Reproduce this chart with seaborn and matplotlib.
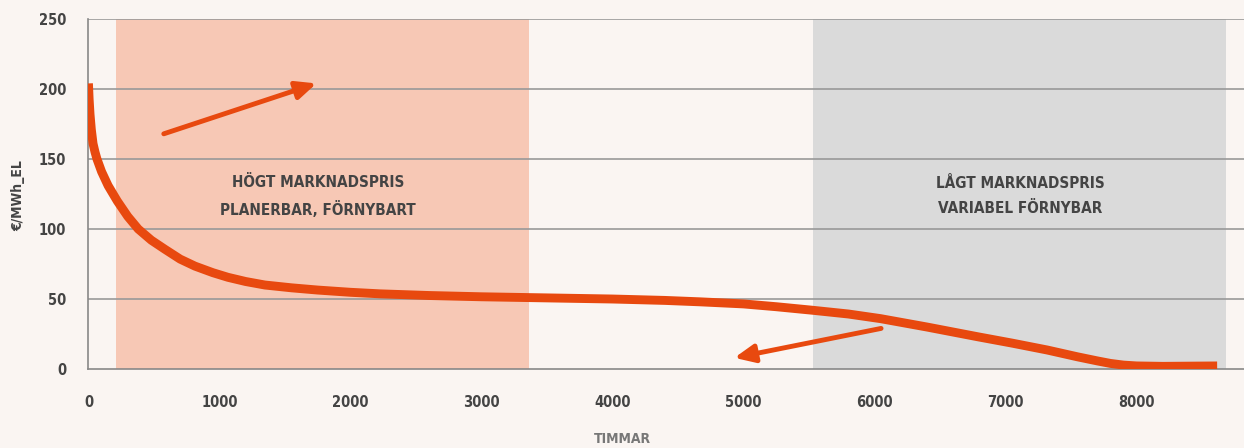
import numpy as np
import pandas as pd
import matplotlib
matplotlib.use("Agg")
import matplotlib.pyplot as plt
import seaborn as sns

# duration curve (hours vs price)
hours = [0, 5, 12, 22, 35, 50, 65, 100, 150, 220, 300, 380, 480, 584, 700, 813, 950,
         1065, 1200, 1347, 1550, 1750, 2000, 2225, 2600, 3000, 3500, 4000, 4400, 4667,
         5000, 5250, 5524, 5800, 6045, 6400, 6790, 7050, 7317, 7550, 7700, 7800, 7900,
         8000, 8200, 8615]
price = [204, 193, 182, 171, 161, 155, 150, 141, 131, 120, 109, 100, 92, 85.5, 78.5,
         73.5, 68.8, 65.5, 62.5, 60, 58, 56.4, 54.8, 53.7, 52.5, 51.6, 50.8, 50, 49,
         48, 46.5, 44.5, 42, 39.3, 36, 30, 23, 18.5, 13.6, 8.7, 5.8, 4, 2.8,
         2.2, 1.9, 2.2]

# shaded regimes
regions = [(210, 3360), (5530, 8685)]
region_labels = ["HÖGT MARKNADSPRIS\nPLANERBAR, FÖRNYBART",
                 "LÅGT MARKNADSPRIS\nVARIABEL FÖRNYBAR"]
label_pos = [(1750, 123.5), (7110, 123.5)]

# arrows (start -> end)
arrows = [((575, 168), (1740, 204)), ((6050, 29), (4930, 8))]

x_ticks = [0, 1000, 2000, 3000, 4000, 5000, 6000, 7000, 8000]
y_ticks = [0, 50, 100, 150, 200, 250]

bg = "#faf5f2"
orange = "#e8490f"
txt = "#444444"

sns.set_theme(style="white")
plt.rcParams["font.family"] = ["DejaVu Sans"]
plt.rcParams["font.stretch"] = "condensed"
plt.rcParams["font.weight"] = "bold"

fig = plt.figure(figsize=(12.44, 4.48), dpi=100, facecolor=bg)
ax = fig.add_axes([0.0711, 0.1763, 0.9289, 0.78125])
ax.set_facecolor(bg)

ax.axvspan(*regions[0], color="#f7c8b5", lw=0, zorder=0)
ax.axvspan(*regions[1], color="#dadada", lw=0, zorder=0)

for yv in y_ticks[1:]:
    ax.axhline(yv, color="#999999", lw=1.2, zorder=1)

df = pd.DataFrame({"hours": hours, "price": price})
sns.lineplot(data=df, x="hours", y="price", ax=ax, color=orange, lw=6.4,
             solid_capstyle="butt", solid_joinstyle="round", zorder=3)

for (x0, y0), (x1, y1) in arrows:
    ax.annotate("", xy=(x1, y1), xytext=(x0, y0),
                arrowprops=dict(arrowstyle="-|>,head_length=1.0,head_width=0.45",
                                color=orange, lw=3.5, shrinkA=0, shrinkB=0),
                zorder=4)

for lab, (lx, ly) in zip(region_labels, label_pos):
    ax.text(lx, ly, lab, ha="center", va="center", fontsize=11,
            color=txt, fontweight="bold", linespacing=1.8, fontstretch="condensed")

ax.set_xlim(0, 8820)
ax.set_ylim(0, 250)
ax.set_xticks(x_ticks)
ax.set_yticks(y_ticks)
ax.tick_params(axis="x", length=0, pad=19, labelsize=10.5, colors=txt)
ax.tick_params(axis="y", length=0, pad=16, labelsize=10.5, colors=txt)
for lab in ax.get_xticklabels() + ax.get_yticklabels():
    lab.set_fontweight("bold")
    lab.set_fontstretch("condensed")

ax.set_xlabel("")
ax.set_ylabel("")
fig.text(622 / 1244, 1 - 439 / 448, "TIMMAR", ha="center", va="center",
         fontsize=10, color="#777777", fontweight="bold", fontstretch="condensed")
fig.text(18 / 1244, 1 - 196 / 448, "€/MWh_EL", ha="center", va="center",
         rotation=90, fontsize=10, color=txt, fontweight="bold",
         fontstretch="condensed")

for s in ["top", "right"]:
    ax.spines[s].set_visible(False)
ax.spines["left"].set_color("#888888")
ax.spines["left"].set_linewidth(1.2)
ax.spines["bottom"].set_color("#888888")
ax.spines["bottom"].set_linewidth(1.2)

fig.savefig("out.png", dpi=100, facecolor=bg)
